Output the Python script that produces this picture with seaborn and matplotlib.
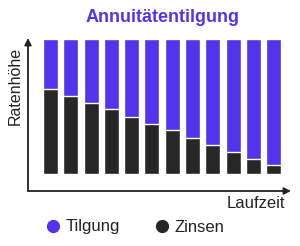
import matplotlib
matplotlib.use("Agg")
import matplotlib.pyplot as plt
from matplotlib.lines import Line2D
import seaborn as sns
import pandas as pd

periods = list(range(1, 13))
rate = [100] * 12
zinsen = [62.5, 57.4, 52.2, 47.8, 41.9, 36.8, 32.4, 26.5, 21.3, 16.2, 11.0, 6.6]
series_labels = ["Tilgung", "Zinsen"]

purple = "#5234EC"
dark = "#272727"

df = pd.DataFrame({"periode": periods, "rate": rate, "zinsen": zinsen})

sns.set_style("white")
plt.rcParams["font.family"] = ["Liberation Sans", "DejaVu Sans"]

W, H = 300, 246
fig = plt.figure(figsize=(W / 100, H / 100), dpi=100)
ax = fig.add_axes([28 / W, 1 - 191 / H, 263 / W, 153 / H])

sns.barplot(data=df, x="periode", y="rate", color=purple, width=0.74,
            saturation=1, ax=ax)
sns.barplot(data=df, x="periode", y="zinsen", color=dark, width=0.74,
            saturation=1, ax=ax)

ax.set_xlim(-1.11, 11.86)
ax.set_ylim(-12.5, 100.5)
ax.set_xticks([])
ax.set_yticks([])
ax.set_xlabel("")
ax.set_ylabel("")
for s in ax.spines.values():
    s.set_visible(False)

arrow = dict(arrowstyle="-|>", color="#222222", lw=1.3, mutation_scale=10,
             shrinkA=0, shrinkB=0)
ax.annotate("", xy=(0, 1), xytext=(0, 0), xycoords="axes fraction",
            arrowprops=arrow)
ax.annotate("", xy=(1, 0), xytext=(0, 0), xycoords="axes fraction",
            arrowprops=arrow)

fig.text(162.5 / W, 1 - 17 / H, "Annuitätentilgung", ha="center", va="center",
         fontsize=13, fontweight="bold", color=purple)
fig.text(15 / W, 1 - 86 / H, "Ratenhöhe", ha="center", va="center",
         rotation=90, fontsize=11.5, color="#222222")
fig.text(285 / W, 1 - 203 / H, "Laufzeit", ha="right", va="center",
         fontsize=12, color="#222222")

handles = [Line2D([], [], marker="o", linestyle="", markersize=8.5,
                  markerfacecolor=c, markeredgecolor=c) for c in (purple, dark)]
fig.legend(handles, series_labels, loc="center left",
           bbox_to_anchor=(45 / W, 1 - 227 / H), ncol=2, frameon=False,
           fontsize=12, handletextpad=0.25, columnspacing=2.0,
           handlelength=1.0, borderaxespad=0, borderpad=0,
           labelcolor="#222222")

fig.savefig("out.png", dpi=100)
